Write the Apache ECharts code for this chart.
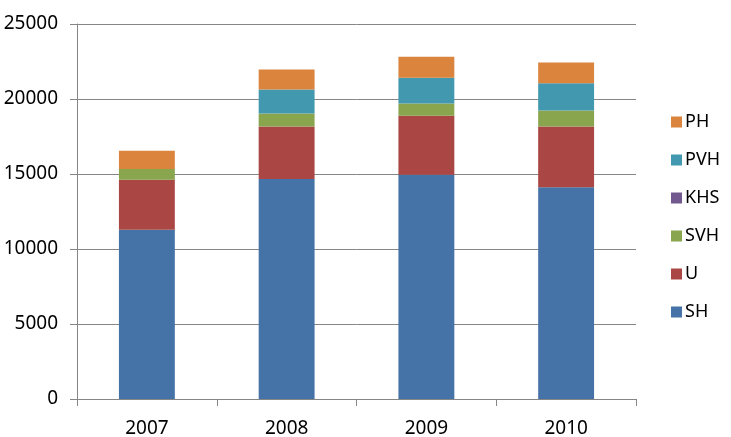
<!DOCTYPE html>
<html>
<head>
<meta charset="utf-8">
<script src="https://cdn.jsdelivr.net/npm/echarts@6/dist/echarts.min.js"></script>
<style>html,body{margin:0;padding:0;background:#fff}#c{width:731px;height:437px}</style>
</head>
<body>
<div id="c"></div>
<script>
const categories = ['2007', '2008', '2009', '2010'];
const SH  = [11290, 14670, 14950, 14110];
const U   = [3330, 3490, 3930, 4050];
const SVH = [710, 870, 820, 1070];
const KHS = [0, 0, 0, 0];
const PVH = [0, 1600, 1710, 1820];
const PH  = [1220, 1330, 1400, 1380];
const yTicks = [0, 5000, 10000, 15000, 20000, 25000];

const names = ['SH', 'U', 'SVH', 'KHS', 'PVH', 'PH'];
const values = [SH, U, SVH, KHS, PVH, PH];
const colors = ['#4572A7', '#AA4643', '#89A54E', '#71588F', '#4198AF', '#DB843D'];
const font = '"Noto Sans", sans-serif';

const chart = echarts.init(document.getElementById('c'));
chart.setOption({
  animation: false,
  grid: { left: 77, right: 95, top: 24, bottom: 38, containLabel: false, outerBoundsMode: 'none' },
  legend: {
    orient: 'vertical',
    left: 666, top: 107,
    itemWidth: 11, itemHeight: 11, itemGap: 18,
    icon: 'rect',
    data: names.slice().reverse(),
    textStyle: { fontFamily: font, fontSize: 18, color: '#000', lineHeight: 20, padding: [0, 0, 0, -2] }
  },
  xAxis: {
    type: 'category',
    data: categories,
    axisLine: { lineStyle: { color: '#868686', width: 1 } },
    axisTick: { show: true, length: 7, lineStyle: { color: '#868686' } },
    axisLabel: { fontFamily: font, fontSize: 19, color: '#000', margin: 20 }
  },
  yAxis: {
    type: 'value',
    min: yTicks[0], max: yTicks[yTicks.length - 1], interval: 5000,
    axisLine: { show: true, lineStyle: { color: '#868686', width: 1 } },
    axisTick: { show: true, length: 7, lineStyle: { color: '#868686' } },
    splitLine: { lineStyle: { color: '#868686', width: 1 } },
    axisLabel: { fontFamily: font, fontSize: 19, color: '#000', margin: 19, formatter: v => String(v) }
  },
  series: names.map((n, i) => ({
    name: n,
    type: 'bar',
    stack: 'total',
    data: values[i],
    barWidth: '40%',
    itemStyle: { color: colors[i] }
  }))
});
</script>
</body>
</html>
